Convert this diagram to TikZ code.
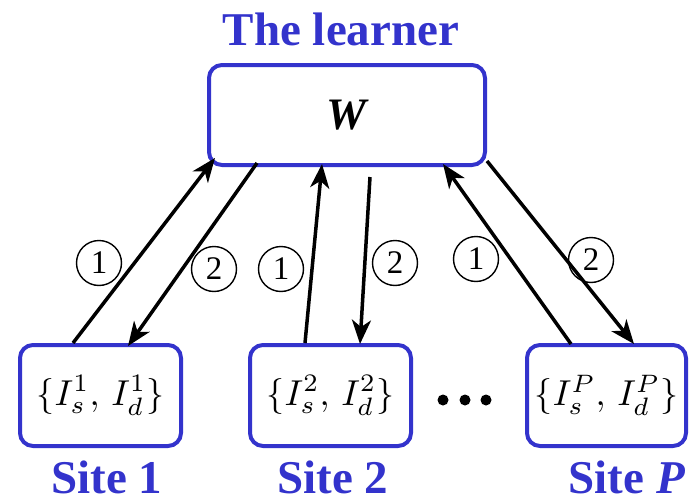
\documentclass[tikz,border=0pt]{standalone}
\usepackage{graphicx}
\usepackage{fontspec}
\setmainfont{Liberation Serif}
\usetikzlibrary{arrows.meta,calc}
\definecolor{boxblue}{RGB}{51,51,204}
\newcommand{\bigset}[1]{\scalebox{3.6}{$#1$}}
\tikzset{
  box/.style={draw=boxblue, line width=4pt, rounded corners=13pt, inner sep=0pt, outer sep=0pt, fill=white},
  sitebox/.style={box, minimum width=161pt, minimum height=101pt},
  title/.style={text=boxblue, font=\fontsize{47}{50}\selectfont\bfseries, anchor=base, inner sep=0pt},
  arr/.style={line width=3.5pt, -{Stealth[length=24pt, width=19pt, inset=7pt]}},
  num/.style={circle, draw, line width=1.4pt, minimum size=45pt, inner sep=0pt, font=\fontsize{33}{33}\selectfont},
  dot/.style={circle, fill=black, inner sep=0pt, minimum size=11pt}
}
\begin{document}
\begin{tikzpicture}[x=1pt, y=-1pt]
\useasboundingbox (0,0) rectangle (689,498);
% learner
\node[box, minimum width=276pt, minimum height=100pt] (learner) at (347,115)
  {\fontsize{45}{45}\selectfont\bfseries\itshape W};
\node[title] (ltitle) at (341,45) {The learner};
% sites
\node[sitebox] (site1) at (100.5,395.5) {\bigset{\{I_s^1,\, I_d^1\}}};
\node[sitebox] (site2) at (330.5,395.5) {\bigset{\{I_s^2,\, I_d^2\}}};
\node[sitebox, minimum width=159pt] (siteP) at (606.5,395.5) {\bigset{\{I_s^P,\, I_d^P\}}};
\node[title] (s1lab) at (107,493) {Site 1};
\node[title] (s2lab) at (333,493) {Site 2};
\node[title] (sPlab) at (627,493) {Site \textit{P}};
% dots
\node[dot] (d1) at (443,400) {};
\node[dot] (d2) at (465,400) {};
\node[dot] (d3) at (486,400) {};
% arrows
\draw[arr] ($(site1.north west)+(53,-2)$) -- ($(learner.south west)+(6,-7)$);
\draw[arr] ($(learner.south west)+(48,-2)$) -- ($(site1.north west)+(108,1)$);
\draw[arr] ($(site2.north west)+(55,-2)$) -- ($(learner.south west)+(113,-1)$);
\draw[arr] ($(learner.south west)+(161,12)$) -- ($(site2.north west)+(110,-1)$);
\draw[arr] ($(siteP.north west)+(44,-1)$) -- ($(learner.south west)+(234,-1)$);
\draw[arr] ($(learner.south east)+(2,-4)$) -- ($(siteP.north west)+(107,-1)$);
% labels
\node[num] (n1) at (99,263) {1};
\node[num] (n2) at (214,269) {2};
\node[num] (n3) at (281,269) {1};
\node[num] (n4) at (395,263) {2};
\node[num] (n5) at (476,259) {1};
\node[num] (n6) at (591,260) {2};
\end{tikzpicture}
\end{document}
